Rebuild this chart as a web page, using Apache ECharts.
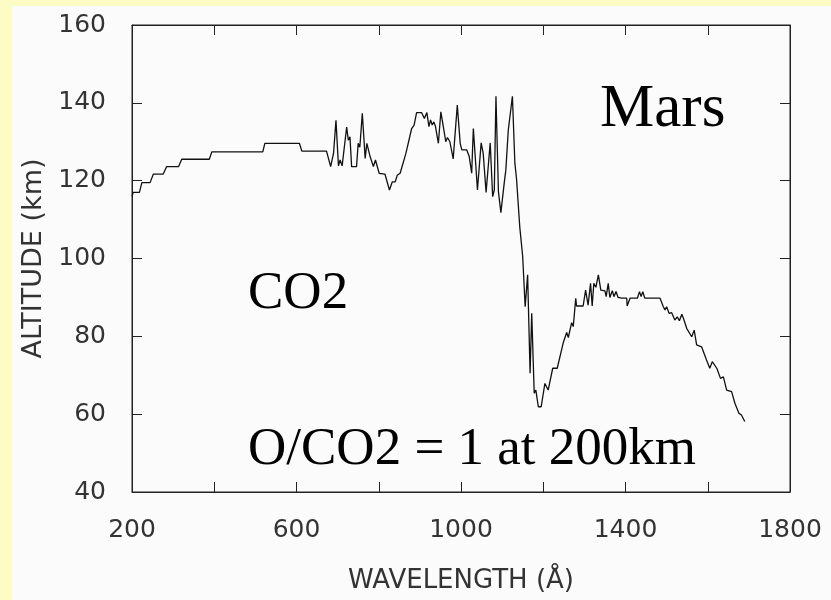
<!DOCTYPE html>
<html>
<head>
<meta charset="utf-8">
<script src="https://cdn.jsdelivr.net/npm/echarts@6/dist/echarts.min.js"></script>
<style>
  html, body { margin: 0; padding: 0; background: #fdfcc4; }
  #main { width: 831px; height: 600px; }
</style>
</head>
<body>
<div id="main"></div>
<script>
// wavelength (Å)
var wavelength = [
  200, 203, 218, 224, 244, 252, 276, 284, 313, 321, 388, 394, 518, 523, 607, 613, 673,
  683, 690, 696, 702, 706, 711, 722, 726, 730, 734, 746, 750, 754, 760, 767, 771, 779,
  787, 792, 801, 815, 826, 833, 840, 845, 852, 866, 880, 886, 892, 904, 911, 917, 922,
  926, 930, 934, 938, 945, 951, 957, 963, 967, 973, 977, 981, 985, 991, 998, 1002, 1014,
  1020, 1026, 1030, 1040, 1049, 1054, 1061, 1071, 1077, 1081, 1085, 1091, 1097, 1105,
  1109, 1115, 1125, 1131, 1135, 1143, 1150, 1156, 1162, 1168, 1172, 1178, 1182, 1188,
  1195, 1204, 1212, 1223, 1234, 1249, 1257, 1261, 1269, 1273, 1279, 1281, 1297, 1303,
  1309, 1315, 1319, 1323, 1328, 1334, 1340, 1350, 1353, 1358, 1362, 1368, 1372, 1377,
  1382, 1391, 1403, 1404, 1411, 1429, 1434, 1438, 1442, 1447, 1484, 1492, 1496, 1500,
  1506, 1512, 1520, 1526, 1531, 1537, 1541, 1549, 1561, 1567, 1573, 1585, 1597, 1605,
  1611, 1622, 1631, 1638, 1646, 1658, 1666, 1676, 1682, 1690
];
// altitude (km) of unit optical depth
var altitude = [
  116, 117, 117, 119.5, 119.5, 121.7, 121.7, 123.6, 123.6, 125.5, 125.5, 127.4, 127.4, 129.6, 129.6, 127.6, 127.6,
  123.6, 127, 135.5, 123.8, 125.3, 123.8, 133.8, 130.4, 131.3, 123.6, 123.6, 129.6, 128.6, 137.3, 125.7, 129.6, 126.2,
  123.6, 125.3, 121.9, 121.7, 117.6, 119.7, 119.7, 121.4, 121.9, 127, 133.4, 134.3, 137.5, 137.5, 136, 137.5, 133.9,
  135.6, 134.3, 135.1, 133.9, 129.6, 137.7, 133.9, 130, 131.1, 130, 129.6, 125.6, 125.6, 139.4, 129.6, 127.9, 127.9,
  126.2, 121.9, 133.4, 117.6, 129.7, 127, 117, 129.7, 115.9, 117.6, 141.7, 117.2, 111.8, 119.3,
  122.7, 133, 141.7, 124.5, 120.5, 108, 100.5, 87.6, 95.8, 70.5, 85.9, 65.4, 66.2, 61.9,
  61.9, 67.9, 66.2, 71.8, 71.8, 78.5, 81, 79.7, 83.5, 82.5, 89.8, 87.8, 87.8, 91.9,
  88, 93.6, 87.8, 93.6, 92.6, 95.8, 91.9, 91.7, 90.2, 93.6, 90, 91.7, 90.2, 91.5,
  90, 89.8, 89.8, 87.8, 89.8, 89.8, 91.5, 90.2, 91.5, 89.8, 89.8, 87.6, 86.8, 87.6,
  85.9, 86.1, 84.2, 85, 84, 85.7, 84.6, 82, 79.9, 81.6, 77.8, 77.3, 73.9, 71.8,
  73.5, 71.8, 69.2, 69.6, 66.2, 65.8, 62.8, 60.2, 59.8, 58.1
];
var xLabels = [200, 600, 1000, 1400, 1800];

var chart = echarts.init(document.getElementById('main'));
var tickFont = 'DejaVu Sans';
var tick = { show: true, inside: true, length: 10, lineStyle: { color: '#222', width: 1 } };

var option = {
  backgroundColor: '#fdfcc4',
  animation: false,
  grid: { left: 132, right: 41, top: 25, bottom: 108, show: true, backgroundColor: 'transparent', borderColor: '#222', borderWidth: 1 },
  graphic: [
    { type: 'rect', z: -10, shape: { x: 12, y: 6, width: 819, height: 594 }, style: { fill: '#fbfbfb' } },
    { type: 'text', left: 600, top: 79, style: { text: 'Mars', font: '61px "Liberation Serif"', fill: '#000' } },
    { type: 'text', left: 248, top: 268, style: { text: 'CO2', font: '53px "Liberation Serif"', fill: '#000' } },
    { type: 'text', left: 248, top: 424, style: { text: 'O/CO2 = 1 at 200km', font: '53px "Liberation Serif"', fill: '#000' } }
  ],
  xAxis: [
    {
      type: 'value', min: 200, max: 1800, interval: 200, position: 'bottom',
      name: 'WAVELENGTH (Å)', nameLocation: 'middle', nameGap: 76,
      nameTextStyle: { fontFamily: tickFont, fontSize: 26, color: '#333', verticalAlign: 'top' },
      axisLine: { show: true, lineStyle: { color: '#222', width: 1 } },
      axisTick: tick,
      splitLine: { show: false },
      axisLabel: {
        margin: 26, fontFamily: tickFont, fontSize: 25, color: '#333',
        formatter: function (v) { return xLabels.indexOf(v) >= 0 ? String(v) : ''; }
      }
    },
    {
      type: 'value', min: 200, max: 1800, interval: 200, position: 'top',
      axisLine: { show: true, lineStyle: { color: '#222', width: 1 } },
      axisTick: tick, axisLabel: { show: false }, splitLine: { show: false }
    }
  ],
  yAxis: [
    {
      type: 'value', min: 40, max: 160, interval: 20, position: 'left',
      name: 'ALTITUDE (km)', nameLocation: 'middle', nameGap: 85,
      nameTextStyle: { fontFamily: tickFont, fontSize: 27, color: '#333' },
      axisLine: { show: true, lineStyle: { color: '#222', width: 1 } },
      axisTick: tick,
      splitLine: { show: false },
      axisLabel: { margin: 26, fontFamily: tickFont, fontSize: 25, color: '#333' }
    },
    {
      type: 'value', min: 40, max: 160, interval: 20, position: 'right',
      axisLine: { show: true, lineStyle: { color: '#222', width: 1 } },
      axisTick: tick, axisLabel: { show: false }, splitLine: { show: false }
    }
  ],
  series: [
    {
      type: 'line',
      data: wavelength.map(function (w, i) { return [w, altitude[i]]; }),
      showSymbol: false,
      lineStyle: { color: '#111', width: 1.3 }
    }
  ]
};
chart.setOption(option);
</script>
</body>
</html>
